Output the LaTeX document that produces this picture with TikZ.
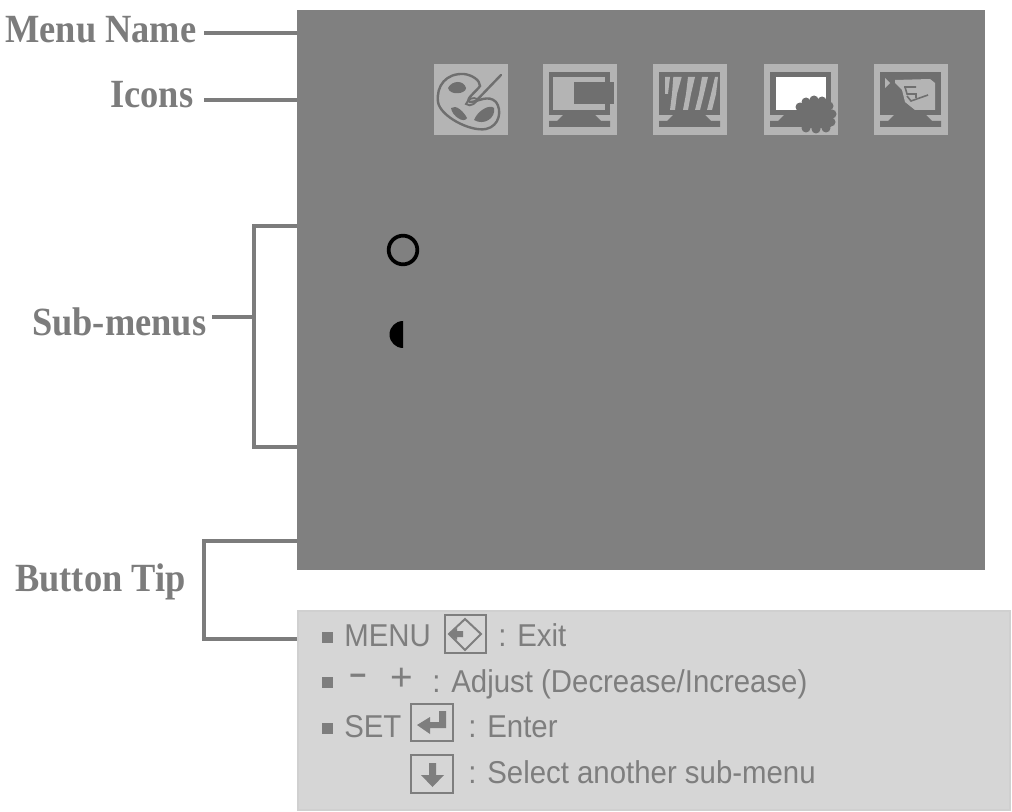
\documentclass[tikz,border=0pt]{standalone}
\usepackage{fontspec}
\setmainfont{Liberation Serif}
\newfontfamily\lblfont[FakeStretch=0.91]{Liberation Serif}
\newfontfamily\tipfont{Liberation Sans}
\newfontfamily\tipnarrow[FakeStretch=0.93]{Liberation Sans}
\definecolor{panelgray}{HTML}{808080}
\definecolor{tipgray}{HTML}{D6D6D6}
\definecolor{tipedge}{HTML}{D0D0D0}
\definecolor{tiptext}{HTML}{7E7E7E}
\definecolor{labelgray}{HTML}{7C7C7C}
\definecolor{iconlight}{HTML}{B4B4B4}
\definecolor{icondark}{HTML}{6F6F6F}
\tikzset{
  x=0.75pt,y=-0.75pt,
  lbl/.style={inner sep=0pt,anchor=base west,text=labelgray,font=\lblfont\fontsize{30}{32}\selectfont\bfseries},
  tip/.style={inner sep=0pt,anchor=base west,text=tiptext,font=\tipnarrow\fontsize{23.7}{25}\selectfont},
  tipbold/.style={inner sep=0pt,anchor=base west,text=tiptext,font=\tipfont\fontsize{22}{24}\selectfont\bfseries},
  tipbig/.style={inner sep=0pt,anchor=base west,text=tiptext,font=\tipfont\fontsize{29}{30}\selectfont},
  lead/.style={draw=labelgray,line width=3pt},
  keybox/.style={draw=tiptext,line width=1.5pt,fill=tipgray,minimum width=31pt,minimum height=28pt,inner sep=0pt},
  bulletsq/.style={fill=tiptext,minimum size=8pt,inner sep=0pt},
  iconbox/.style={fill=iconlight},
  idark/.style={fill=icondark},
  ilight/.style={fill=iconlight}
}
\newcommand{\monitorbase}{%
  \fill[idark] (6,8) rectangle (67,51);
  \fill[idark] (20,51) -- (52,51) -- (58,57) -- (67,57) -- (67,63) -- (6,63) -- (6,57) -- (14,57) -- cycle;
}
\begin{document}
\begin{tikzpicture}
\useasboundingbox (0,0) rectangle (1012,812);
\fill[white] (0,0) rectangle (1012,812);
% panels
\node[fill=panelgray,minimum width=516pt,minimum height=420pt,inner sep=0pt,anchor=north west] (panel) at (297,10) {};
\node[fill=tipgray,draw=tipedge,line width=1.5pt,minimum width=534pt,minimum height=149.5pt,inner sep=0pt,anchor=north west] (tippanel) at (297,610) {};
% labels
\node[lbl] (menuname) at (5,43) {Menu Name};
\node[lbl] (icons) at (110,108) {Icons};
\node[lbl] (submenus) at (32,335) {Sub-menus};
\node[lbl] (buttontip) at (15,591) {Button Tip};
% anchors
\coordinate (lm) at (204,33);
\coordinate (pm) at (297,33);
\coordinate (li) at (204,100);
\coordinate (pi) at (297,100);
\coordinate (ps1) at (297,226);
\coordinate (ps2) at (297,447);
\coordinate (sb) at (254,317);
\coordinate (sl) at (212,317);
\coordinate (pb) at (297,541);
\coordinate (pt) at (297,639);
\coordinate (bb) at (204,541);
% connectors
\draw[lead] (lm) -- (pm);
\draw[lead] (li) -- (pi);
\draw[lead] (ps1) -| (254,447) -- (ps2);
\draw[lead] (sl) -- (sb);
\draw[lead] (pb) -- (bb) |- (pt);
% icon 1 palette
\begin{scope}[shift={(434,64)}]
  \fill[iconbox] (0,0) rectangle (74,71);
  \draw[icondark,line width=1.8pt] (30,10) .. controls (12,9) and (2,22) .. (4,38) .. controls (6,52) and (36,68) .. (52,65) .. controls (66,62) and (68,46) .. (62,38) .. controls (54,30) and (44,38) .. (36,38) .. controls (30,36) and (42,28) .. (46,22) .. controls (46,16) and (38,11) .. (30,10) -- cycle;
  \fill[icondark] (14,24) .. controls (18,16) and (30,16) .. (32,24) .. controls (32,30) and (16,32) .. (14,24) -- cycle;
  \fill[icondark] (17,44) .. controls (22,40) and (30,48) .. (33,54) .. controls (30,60) and (18,52) .. (17,44) -- cycle;
  \fill[icondark] (40,56) .. controls (44,46) and (56,40) .. (60,44) .. controls (62,54) and (50,62) .. (40,56) -- cycle;
  \draw[icondark,line width=1.8pt,line cap=round] (67,11) -- (42,37);
  \draw[icondark,line width=1.4pt] (32,40) .. controls (34,34) and (40,33) .. (43,35) .. controls (44,38) and (36,44) .. (32,40) -- cycle;
\end{scope}
% icon 2
\begin{scope}[shift={(543,64)}]
  \fill[iconbox] (0,0) rectangle (74,71);
  \monitorbase
  \fill[ilight] (10,13) rectangle (62,46);
  \fill[idark] (31,18) rectangle (71,40);
\end{scope}
% icon 3
\begin{scope}[shift={(653,64)}]
  \fill[iconbox] (0,0) rectangle (74,71);
  \monitorbase
  \fill[ilight] (12,13) -- (17,13) -- (15,30) -- (12,30) -- cycle;
  \fill[ilight] (20.3,13) -- (28.7,13) -- (24,30) -- (22,46) -- (17,46) -- (19,30) -- cycle;
  \fill[ilight] (35,13) -- (42,13) -- (38,30) -- (35,46) -- (30,46) -- (33,30) -- cycle;
  \fill[ilight] (49,13) -- (55,13) -- (51,30) -- (47,46) -- (42,46) -- (46,30) -- cycle;
  \fill[ilight] (62,13) -- (65,13) -- (63,30) -- (59,46) -- (54,46) -- (58,30) -- cycle;
\end{scope}
% icon 4
\begin{scope}[shift={(764,64)}]
  \fill[iconbox] (0,0) rectangle (74,71);
  \monitorbase
  \fill[white] (12,13) rectangle (62,46);
  \fill[idark] (52,50) circle (15);
  \foreach \cx/\cy in {36/43,42/38,50/36,58/37,65/42,68/50,67/58,62/64,52/65,42/64,36/55}{
    \fill[idark] (\cx,\cy) circle (4.5);
  }
\end{scope}
% icon 5
\begin{scope}[shift={(874,64)}]
  \fill[iconbox] (0,0) rectangle (74,71);
  \monitorbase
  \fill[ilight] (11,14) -- (16,19) -- (11,24) -- cycle;
  \fill[ilight] (21,16) -- (56,15) -- (61,19) -- (61,46) -- (41,46) -- (31,38) -- (28,26) -- (21,19) -- cycle;
  \draw[icondark,line width=1.2pt] (30,23) -- (42,23) (31,23) -- (33,30) -- (42,30) -- (42,34) (33,32) -- (37,37) -- (54,31);
\end{scope}
% circle symbols
\node[draw=black,line width=2.8pt,circle,minimum size=21.5pt,inner sep=0pt] (bright) at (403,250) {};
\fill[black] (403,348) arc (90:270:13.5) -- cycle;
% tip lines
\node[bulletsq] (b1) at (327.5,637.5) {};
\node[tip] (menu) at (344,646) {MENU};
\node[keybox] (k1) at (465.5,634) {};
\node[tip] (exit) at (498,646) {: Exit};
\node[bulletsq] (b2) at (327.5,682.5) {};
\node[tipbold] (minus) at (349,685) {−};
\node[tipbig] (plus) at (390,690) {+};
\node[tip] (adjust) at (432,692) {: Adjust (Decrease/Increase)};
\node[bulletsq] (b3) at (327.5,728.5) {};
\node[tip] (set) at (344,737) {SET};
\node[keybox] (k2) at (432,722.5) {};
\node[tip] (enter) at (468,737) {: Enter};
\node[keybox] (k3) at (432,774) {};
\node[tip] (sel) at (468,783) {: Select another sub-menu};
% key glyphs
\draw[tiptext,line width=1.5pt] (465,619) -- (481,634) -- (465,650) -- (449,634) -- cycle;
\fill[tiptext] (449,634) -- (457,628) -- (457,631) -- (463,631) -- (463,637) -- (457,637) -- (457,640) -- cycle;
\fill[tiptext] (417,725) -- (430,717) -- (430,722) -- (439,722) -- (439,711) -- (446,711) -- (446,728) -- (430,728) -- (430,734) -- cycle;
\fill[tiptext] (429,763) -- (436,763) -- (436,775) -- (444,775) -- (432.5,787) -- (421,775) -- (429,775) -- cycle;
\end{tikzpicture}
\end{document}
